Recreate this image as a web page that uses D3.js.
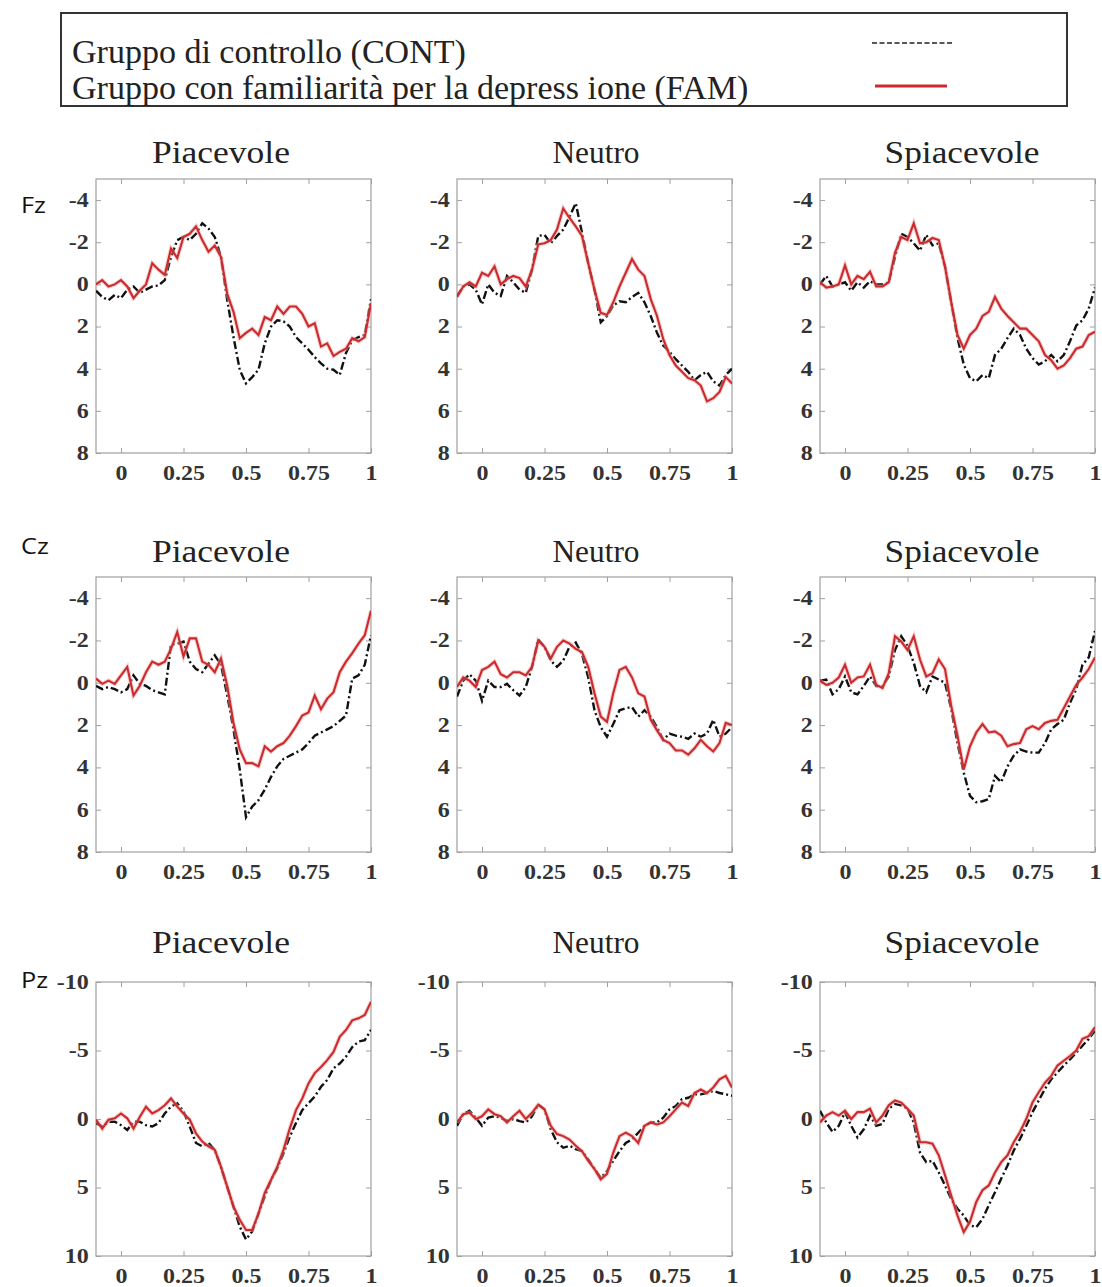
<!DOCTYPE html>
<html>
<head>
<meta charset="utf-8">
<script src="https://cdn.jsdelivr.net/npm/d3@7"></script>
<style>
body { margin: 0; background: #fff; }
</style>
</head>
<body>
<svg id="chart" width="1102" height="1287"></svg>
<script>
// time axis (s), shared by all panels
var times = [-0.1,-0.075,-0.05,-0.025,0,0.025,0.05,0.075,0.1,0.125,0.15,0.175,0.2,0.225,0.25,0.275,0.3,0.325,0.35,0.375,0.4,0.425,0.45,0.475,0.5,0.525,0.55,0.575,0.6,0.625,0.65,0.675,0.7,0.725,0.75,0.775,0.8,0.825,0.85,0.875,0.9,0.925,0.95,0.975,1];

var xTicks = [0, 0.25, 0.5, 0.75, 1];
var yTicksFC = [-4, -2, 0, 2, 4, 6, 8];
var yTicksP = [-10, -5, 0, 5, 10];

var conditions = ["Piacevole", "Neutro", "Spiacevole"];
var electrodes = ["Fz", "Cz", "Pz"];
var groupLabels = ["Gruppo di controllo (CONT)", "Gruppo con familiarità per la depress ione (FAM)"];

// Fz
var fzPiacCont = [0.3,0.6,0.75,0.5,0.65,0.25,0.1,0.4,0.25,0.1,0.05,-0.2,-1.3,-2.1,-2.25,-2.1,-2.4,-2.9,-2.65,-2.25,-1.3,0.75,2.5,4.05,4.7,4.4,4.05,2.8,2.0,1.7,1.75,2.0,2.5,2.8,3.1,3.45,3.75,4.0,4.05,4.3,3.25,2.65,2.5,2.4,0.7];
var fzPiacFam = [0,-0.2,0.1,0,-0.2,0.1,0.65,0.3,0,-1.0,-0.7,-0.45,-1.7,-1.25,-2.25,-2.4,-2.75,-2.1,-1.55,-1.85,-1.3,0.45,1.3,2.55,2.3,2.1,2.4,1.55,1.7,1.05,1.4,1.05,1.05,1.4,2.0,1.85,2.95,2.8,3.4,3.2,3.05,2.55,2.7,2.5,0.9];
var fzNeuCont = [0.55,0.1,0,0.25,0.95,0,0.4,0.55,-0.4,-0.1,0.25,0.4,-0.7,-2.3,-2.35,-1.95,-2.3,-2.6,-3.2,-3.85,-2.45,-1.0,0.25,1.8,1.5,1.0,0.8,0.85,0.6,0.4,0.85,1.5,2.3,2.9,3.2,3.55,3.85,4.15,4.55,4.3,4.15,4.6,4.8,4.3,4.0];
var fzNeuFam = [0.6,0.1,-0.1,0.1,-0.55,-0.4,-0.85,0,-0.25,-0.4,-0.3,0.1,-0.7,-1.9,-1.95,-2.1,-2.6,-3.6,-3.15,-2.75,-2.3,-1.0,0.25,1.35,1.45,0.85,0.1,-0.55,-1.2,-0.7,-0.4,0.7,1.5,2.6,3.35,3.85,4.15,4.45,4.55,4.8,5.55,5.4,5.1,4.4,4.7];
var fzSpiCont = [0,-0.4,0.1,0,-0.1,0.3,-0.1,0.15,-0.15,0,0,-0.1,-1.3,-2.4,-2.25,-1.95,-1.6,-2.35,-1.85,-1.95,-0.85,0.85,2.55,3.8,4.45,4.6,4.3,4.45,3.35,3.05,2.55,2.1,2.4,3.05,3.5,3.8,3.65,3.35,3.65,3.35,2.7,1.95,1.7,1.15,0.15];
var fzSpiFam = [-0.1,0.15,0.1,0,-0.9,0,-0.4,-0.25,-0.6,0.1,0.1,-0.1,-1.5,-2.25,-2.1,-2.9,-1.95,-2.0,-2.2,-2.1,-0.85,0.85,2.4,3.05,2.4,2.1,1.5,1.3,0.6,1.15,1.5,1.8,2.1,2.1,2.4,2.7,3.35,3.6,4.0,3.85,3.5,3.05,2.95,2.4,2.25];

// Cz
var czPiacCont = [0.15,0.3,0.2,0.3,0.45,0.3,-0.35,0.05,0.15,0.35,0.45,0.55,-1.8,-1.85,-1.95,-1.0,-0.65,-0.5,-0.9,-1.3,-0.85,0.6,2.2,4.1,6.35,5.85,5.55,5.05,4.45,3.95,3.6,3.45,3.3,3.15,2.85,2.5,2.35,2.2,2.05,1.8,1.55,-0.2,-0.35,-0.85,-2.25];
var czPiacFam = [-0.2,0.05,-0.1,0.05,-0.35,-0.75,0.6,0.15,-0.5,-1.0,-0.85,-1.0,-1.6,-2.4,-1.25,-2.1,-2.1,-1.0,-0.85,-0.5,-1.15,0.15,1.9,3.15,3.8,3.8,3.95,3.0,3.25,3.0,2.85,2.5,2.05,1.55,1.4,0.6,1.25,0.75,0.45,-0.5,-1.0,-1.4,-1.85,-2.25,-3.4];
var czNeuCont = [0.65,-0.1,-0.4,-0.1,0.85,-0.1,0.2,0.2,0.05,0.35,0.6,0.2,-0.75,-2.05,-1.7,-1.05,-0.75,-1.05,-1.7,-1.9,-1.35,-0.25,1.3,2.1,2.55,1.95,1.3,1.2,1.15,1.6,1.3,1.6,2.1,2.7,2.4,2.5,2.55,2.65,2.4,2.55,2.4,1.75,2.55,2.4,2.1];
var czNeuFam = [0.2,-0.25,-0.1,0.2,-0.6,-0.75,-1.0,-0.4,-0.25,-0.5,-0.5,-0.35,-0.75,-2.0,-1.7,-1.15,-1.7,-2.0,-1.85,-1.6,-1.45,-0.75,0.5,1.6,1.85,0.5,-0.6,-0.75,-0.25,0.5,0.65,1.75,2.25,2.7,2.85,3.2,3.2,3.4,3.1,2.7,3.0,3.25,2.85,1.9,2.0];
var czSpiCont = [-0.1,-0.15,0.55,0.3,-0.3,0.45,0.55,0.15,-0.3,0.15,0.15,-0.3,-1.55,-2.2,-1.75,-0.95,0.15,0.45,-0.3,-0.15,0,1.25,2.85,4.25,5.35,5.65,5.6,5.5,4.4,4.7,3.95,3.45,3.15,3.25,3.3,3.3,2.85,2.2,1.95,1.75,0.95,0.3,-0.85,-1.2,-2.45];
var czSpiFam = [-0.1,0.1,0,-0.25,-0.85,0,-0.25,-0.3,-0.85,0.1,0.25,-0.45,-2.2,-1.95,-1.55,-2.2,-1.1,-0.3,-0.45,-1.1,-0.65,1.1,2.5,4.1,3.0,2.35,1.95,2.35,2.3,2.5,3.0,2.9,2.85,2.2,2.05,2.2,1.9,1.8,1.75,1.2,0.65,0.1,-0.25,-0.65,-1.2];

// Pz
var pzPiacCont = [0.3,0.55,0.2,0.2,0.45,0.8,0.2,0.2,0.45,0.55,0.3,-0.4,-0.9,-1.15,-0.55,0.55,1.75,2.0,1.75,2.25,3.5,4.95,6.4,7.85,8.8,8.2,6.9,5.65,4.45,3.6,2.5,1.3,0.3,-0.65,-1.15,-1.65,-2.35,-2.85,-3.7,-4.05,-4.55,-5.25,-5.65,-5.75,-6.5];
var pzPiacFam = [0.05,0.7,0.05,-0.05,-0.4,-0.05,0.7,-0.15,-0.9,-0.4,-0.65,-1.0,-1.5,-0.9,-0.4,0.05,1.05,1.65,2.0,2.25,3.5,4.95,6.4,7.35,8.1,8.1,6.9,5.4,4.45,3.5,2.25,0.7,-0.65,-1.5,-2.6,-3.35,-3.8,-4.3,-4.9,-6.0,-6.5,-7.2,-7.35,-7.6,-8.55];
var pzNeuCont = [0.5,-0.35,-0.6,-0.1,0.5,-0.1,-0.2,-0.1,0.15,0,0.15,0.25,-0.2,-1.05,-0.7,0.75,1.7,2.1,1.95,2.2,2.35,2.95,3.65,4.3,3.8,3.05,2.35,1.75,1.5,1.0,0.5,0.25,0.25,-0.1,-0.7,-0.95,-1.45,-1.55,-1.8,-1.8,-1.9,-2.05,-1.9,-1.8,-1.7];
var pzNeuFam = [0.25,-0.35,-0.45,0,-0.2,-0.7,-0.35,-0.2,0.25,-0.2,-0.6,0,-0.45,-1.05,-0.7,0.5,1.1,1.25,1.5,1.95,2.35,3.05,3.65,4.4,4.0,2.45,1.25,1.0,1.25,1.75,0.5,0.25,0.4,0.25,-0.2,-0.7,-1.2,-0.95,-1.9,-2.15,-1.9,-2.3,-2.9,-3.15,-2.3];
var pzSpiCont = [-0.6,0.25,0.95,0.5,-0.5,0.5,1.35,0.75,-0.25,0.5,0.35,-0.75,-1.1,-1.0,-0.75,0.25,2.45,3.15,3.05,3.9,4.85,5.85,6.55,7.05,7.75,7.9,7.3,6.3,5.35,4.35,3.4,2.3,1.45,0.5,-0.5,-1.35,-2.2,-2.9,-3.4,-3.9,-4.35,-4.85,-5.35,-5.85,-6.45];
var pzSpiFam = [0.25,-0.25,-0.5,-0.25,-0.6,0,-0.5,-0.5,-0.75,0.25,-0.25,-1.0,-1.35,-1.2,-0.75,-0.25,1.7,1.7,1.8,2.65,4.1,5.6,7.05,8.25,7.5,6.05,5.2,4.85,3.9,3.15,2.65,1.7,0.95,0,-1.2,-1.95,-2.65,-3.15,-3.9,-4.25,-4.6,-5.0,-5.85,-6.05,-6.7];

var seriesGrid = [
  [[fzPiacCont, fzPiacFam], [fzNeuCont, fzNeuFam], [fzSpiCont, fzSpiFam]],
  [[czPiacCont, czPiacFam], [czNeuCont, czNeuFam], [czSpiCont, czSpiFam]],
  [[pzPiacCont, pzPiacFam], [pzNeuCont, pzNeuFam], [pzSpiCont, pzSpiFam]]
];

// layout
var colLeft = [96, 457, 820];
var titleX = [221, 596, 962];
var titleLen = [138, 87, 155];
var plotW = 275;
var rows = [
  { top: 179, h: 274, titleY: 163, labelY: 213, domain: [-5, 8], ticks: yTicksFC },
  { top: 577, h: 275, titleY: 562, labelY: 554, domain: [-5, 8], ticks: yTicksFC },
  { top: 982, h: 274, titleY: 953, labelY: 988, domain: [-10, 10], ticks: yTicksP }
];

var red = "#cc2a2c";
var axisGray = "#a0a0a0";
var serif = "'Liberation Serif', 'Times New Roman', serif";

var svg = d3.select("#chart");

// legend
var legend = svg.append("g").attr("class", "legend");
legend.append("rect")
  .attr("x", 61).attr("y", 13).attr("width", 1006).attr("height", 93)
  .attr("fill", "#fff").attr("stroke", "#333").attr("stroke-width", 2);
legend.selectAll("text.lg")
  .data(groupLabels)
  .enter().append("text")
  .attr("class", "lg")
  .attr("x", 72)
  .attr("y", function(d, i) { return i == 0 ? 63 : 99; })
  .attr("font-family", serif)
  .attr("font-size", 34)
  .attr("fill", "#222")
  .text(function(d) { return d; });
legend.append("line")
  .attr("x1", 872).attr("x2", 953).attr("y1", 43).attr("y2", 43)
  .attr("stroke", "#222").attr("stroke-width", 1.6).attr("stroke-dasharray", "5,2.5");
legend.append("line")
  .attr("x1", 875).attr("x2", 947).attr("y1", 86).attr("y2", 86)
  .attr("stroke", red).attr("stroke-width", 3);

var fmt = function(d) { return String(d); };

rows.forEach(function(row, r) {
  // electrode label
  svg.append("text")
    .attr("transform", "translate(21," + row.labelY + ") scale(1.15,1)")
    .attr("font-family", "'Open Sans', 'DejaVu Sans', sans-serif")
    .attr("font-size", 22)
    .attr("fill", "#111")
    .text(electrodes[r]);

  conditions.forEach(function(cond, c) {
    var left = colLeft[c];
    var x = d3.scaleLinear().domain([-0.1, 1]).range([left, left + plotW]);
    var y = d3.scaleLinear().domain(row.domain).range([row.top, row.top + row.h]);
    var g = svg.append("g").attr("class", "panel");

    g.append("text")
      .attr("x", titleX[c]).attr("y", row.titleY)
      .attr("text-anchor", "middle")
      .attr("font-family", serif)
      .attr("font-size", 31)
      .attr("textLength", titleLen[c])
      .attr("lengthAdjust", "spacingAndGlyphs")
      .attr("fill", "#222")
      .text(cond);

    g.append("rect")
      .attr("x", left).attr("y", row.top)
      .attr("width", plotW).attr("height", row.h)
      .attr("fill", "#fff").attr("stroke", axisGray).attr("stroke-width", 1.2);

    var bottom = g.append("g")
      .attr("transform", "translate(0," + (row.top + row.h) + ")")
      .call(d3.axisBottom(x).tickValues(xTicks).tickSizeInner(-5).tickSizeOuter(0).tickPadding(13).tickFormat(fmt));
    var top = g.append("g")
      .attr("transform", "translate(0," + row.top + ")")
      .call(d3.axisTop(x).tickValues(xTicks).tickSizeInner(-5).tickSizeOuter(0).tickFormat(""));
    var leftAx = g.append("g")
      .attr("transform", "translate(" + left + ",0)")
      .call(d3.axisLeft(y).tickValues(row.ticks).tickSizeInner(-5).tickSizeOuter(0).tickPadding(6).tickFormat(fmt));
    var rightAx = g.append("g")
      .attr("transform", "translate(" + (left + plotW) + ",0)")
      .call(d3.axisRight(y).tickValues(row.ticks).tickSizeInner(-5).tickSizeOuter(0).tickFormat(""));

    [bottom, top, leftAx, rightAx].forEach(function(ax) {
      ax.select(".domain").remove();
      ax.selectAll(".tick line").attr("stroke", axisGray);
      ax.selectAll(".tick text")
        .attr("font-family", serif)
        .attr("font-weight", "bold")
        .attr("font-size", 20)
        .attr("transform", "scale(1.2,1)")
        .attr("fill", "#333");
    });

    var clipId = "clip" + r + c;
    g.append("clipPath").attr("id", clipId)
      .append("rect").attr("x", left).attr("y", row.top).attr("width", plotW).attr("height", row.h);

    var line = d3.line()
      .x(function(d, i) { return x(times[i]); })
      .y(function(d) { return y(d); });

    var pair = seriesGrid[r][c];
    var lines = g.append("g").attr("clip-path", "url(#" + clipId + ")");
    lines.append("path")
      .datum(pair[0])
      .attr("d", line)
      .attr("fill", "none")
      .attr("stroke", "#111")
      .attr("stroke-width", 2.4)
      .attr("stroke-dasharray", "8,3,2,3");
    lines.append("path")
      .datum(pair[1])
      .attr("d", line)
      .attr("fill", "none")
      .attr("stroke", "#eba5a5")
      .attr("stroke-width", 4.2)
      .attr("stroke-opacity", 0.5);
    lines.append("path")
      .datum(pair[1])
      .attr("d", line)
      .attr("fill", "none")
      .attr("stroke", red)
      .attr("stroke-width", 2.1);
  });
});
</script>
</body>
</html>
